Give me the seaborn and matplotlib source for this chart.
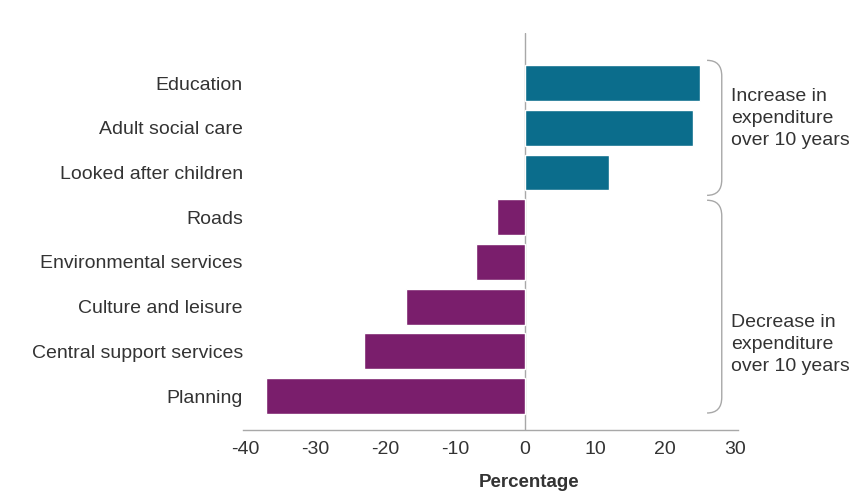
import matplotlib
matplotlib.use("Agg")
import matplotlib.pyplot as plt
from matplotlib.path import Path
from matplotlib.patches import PathPatch
import pandas as pd
import seaborn as sns

# Change in spending by service area
services = ["Education", "Adult social care", "Looked after children", "Roads",
            "Environmental services", "Culture and leisure",
            "Central support services", "Planning"]
change_pct = [25, 24, 12, -4, -7, -17, -23, -37]
direction = ["Increase" if v > 0 else "Decrease" for v in change_pct]
x_ticks = [-40, -30, -20, -10, 0, 10, 20, 30]
x_tick_labels = ["-40", "-30", "-20", "-10", "0", "10", "20", "30"]

palette = {"Increase": "#0b6d8c", "Decrease": "#7a1e6c"}
text_col = "#333333"
line_col = "#a8a8a8"

df = pd.DataFrame({"service": services, "change": change_pct, "direction": direction})

sns.set_theme(style="white")
plt.rcParams["font.family"] = ["Liberation Sans", "DejaVu Sans"]

fig = plt.figure(figsize=(8.55, 4.94), dpi=100)
ax = fig.add_axes([0.284, 0.1296, 0.579, 0.8034])

sns.barplot(data=df, x="change", y="service", hue="direction", palette=palette,
            dodge=False, width=0.8, legend=False, ax=ax, saturation=1)

ax.set_xlim(-40.3, 30.4)
ax.set_ylim(7.76, -1.12)
ax.set_xticks(x_ticks)
ax.set_xticklabels(x_tick_labels)
ax.tick_params(axis="both", length=0, labelsize=14, colors=text_col)
ax.tick_params(axis="x", pad=8)
ax.tick_params(axis="y", pad=0)
ax.set_ylabel("")
ax.set_xlabel("Percentage", fontsize=13.5, fontweight="bold", color=text_col)
ax.xaxis.set_label_coords(0.578, -0.112)

for side in ("top", "right", "left"):
    ax.spines[side].set_visible(False)
ax.spines["bottom"].set_color(line_col)
ax.spines["bottom"].set_linewidth(1.0)
ax.axvline(0, color=line_col, linewidth=1.0, zorder=0)


def bracket(y0, y1, x_line=28.1, x_tip=26.0, r=0.35):
    verts = [(x_tip, y0), (x_line, y0), (x_line, y0 + r),
             (x_line, y1 - r),
             (x_line, y1), (x_tip, y1)]
    codes = [Path.MOVETO, Path.CURVE3, Path.CURVE3, Path.LINETO, Path.CURVE3, Path.CURVE3]
    ax.add_patch(PathPatch(Path(verts, codes), fill=False, edgecolor=line_col,
                           linewidth=1.0, clip_on=False))


bracket(-0.51, 2.51)
bracket(2.62, 7.38)

ax.text(29.4, 0.80, "Increase in\nexpenditure\nover 10 years", fontsize=14,
        color=text_col, va="center", ha="left", linespacing=1.38, clip_on=False)
ax.text(29.4, 5.85, "Decrease in\nexpenditure\nover 10 years", fontsize=14,
        color=text_col, va="center", ha="left", linespacing=1.38, clip_on=False)

fig.savefig("out.png", dpi=100)
